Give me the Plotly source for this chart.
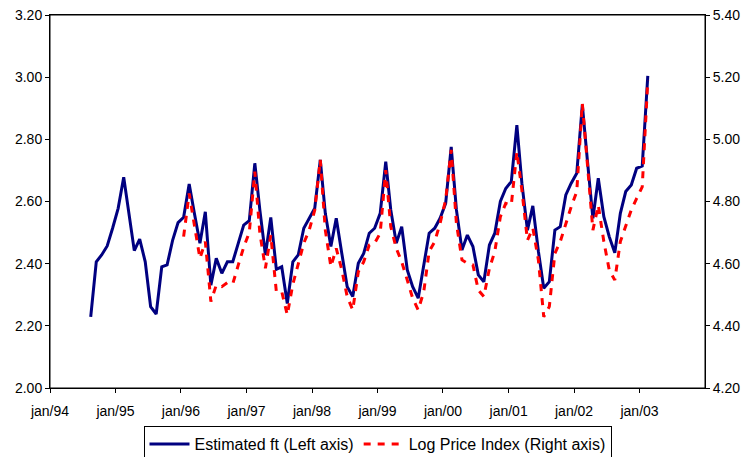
import pandas as pd
import plotly.graph_objects as go

# Estimated ft (left axis), monthly from Aug 1994 to Feb 2003
blue_start = "1994-08-01"
blue_values = [
    2.229, 2.406, 2.428, 2.457, 2.514,                      # Aug-Dec 94
    2.578, 2.678, 2.562, 2.442, 2.479, 2.406, 2.262, 2.238, 2.390, 2.396, 2.476, 2.532,  # 95
    2.549, 2.656, 2.562, 2.466, 2.567, 2.331, 2.417, 2.369, 2.406, 2.406, 2.466, 2.524,  # 96
    2.538, 2.723, 2.573, 2.428, 2.549, 2.382, 2.390, 2.272, 2.406, 2.428, 2.514, 2.546,  # 97
    2.578, 2.734, 2.562, 2.455, 2.546, 2.433, 2.326, 2.294, 2.401, 2.433, 2.498, 2.514,  # 98
    2.562, 2.728, 2.573, 2.466, 2.519, 2.380, 2.326, 2.289, 2.390, 2.498, 2.514, 2.546,  # 99
    2.594, 2.776, 2.573, 2.444, 2.492, 2.455, 2.364, 2.342, 2.460, 2.498, 2.600, 2.642,  # 00
    2.664, 2.846, 2.659, 2.508, 2.586, 2.440, 2.321, 2.342, 2.508, 2.519, 2.621, 2.659,  # 01
    2.691, 2.911, 2.734, 2.546, 2.675, 2.551, 2.487, 2.435, 2.562, 2.632, 2.653, 2.707,  # 02
    2.714, 3.004,                                            # Jan-Feb 03
]

# Log Price Index (right axis), monthly from Jan 1996 to Feb 2003
red_start = "1996-01-01"
red_values = [
    4.687, 4.826, 4.724, 4.617, 4.671, 4.478, 4.531, 4.526, 4.539, 4.535, 4.596, 4.653,  # 96
    4.700, 4.896, 4.699, 4.585, 4.692, 4.510, 4.510, 4.435, 4.534, 4.599, 4.666, 4.708,  # 97
    4.772, 4.934, 4.708, 4.590, 4.649, 4.580, 4.494, 4.451, 4.574, 4.606, 4.660, 4.666,  # 98
    4.698, 4.901, 4.719, 4.649, 4.606, 4.547, 4.489, 4.451, 4.510, 4.639, 4.671, 4.730,  # 99
    4.805, 4.966, 4.730, 4.612, 4.601, 4.596, 4.515, 4.494, 4.585, 4.639, 4.751, 4.794,  # 00
    4.789, 4.960, 4.837, 4.675, 4.715, 4.612, 4.429, 4.462, 4.633, 4.671, 4.730, 4.783,  # 01
    4.832, 5.115, 4.923, 4.708, 4.788, 4.671, 4.580, 4.547, 4.671, 4.720, 4.773, 4.810,  # 02
    4.847, 5.190,                                                                          # 03
]

tick_years = list(range(1994, 2004))
tick_labels = ["jan/%02d" % (y % 100) for y in tick_years]
tick_dates = ["%d-01-01" % y for y in tick_years]
left_ticks = [2.0, 2.2, 2.4, 2.6, 2.8, 3.0, 3.2]
right_ticks = [4.2, 4.4, 4.6, 4.8, 5.0, 5.2, 5.4]

mid = pd.Timedelta(days=15)
blue_x = pd.date_range(blue_start, periods=len(blue_values), freq="MS") + mid
red_x = pd.date_range(red_start, periods=len(red_values), freq="MS") + mid

FONT = "Liberation Sans, Arial, sans-serif"

fig = go.Figure()
fig.add_trace(go.Scatter(
    x=blue_x, y=blue_values, mode="lines", name="Estimated ft (Left axis)",
    line=dict(color="#000080", width=3), yaxis="y",
))
fig.add_trace(go.Scatter(
    x=red_x, y=red_values, mode="lines", name="Log Price Index (Right axis)",
    line=dict(color="#FF0000", width=3, dash="7px,7px"), yaxis="y2",
))

xr = ["1994-01-01", "2004-01-01"]
common_tick = dict(tickcolor="black", ticklen=4, tickwidth=1)

# the page body has an 8px margin, so the figure is sized/offset to compensate
W, H = 741, 449
fig.update_layout(
    width=W, height=H,
    margin=dict(l=42, r=44, t=7, b=69, autoexpand=False),
    paper_bgcolor="white", plot_bgcolor="white",
    font=dict(family=FONT, size=14, color="black"),
    showlegend=True,
    legend=dict(
        orientation="h", x=0.5, xanchor="center",
        yref="container", y=1 - 418 / H, yanchor="top",
        bordercolor="black", borderwidth=1, font=dict(size=16, family=FONT),
        bgcolor="white", itemwidth=40, tracegroupgap=0,
    ),
    shapes=[dict(
        type="rect", xref="paper", yref="paper", x0=0, x1=1, y0=0, y1=1,
        line=dict(color="black", width=1), fillcolor="rgba(0,0,0,0)", layer="above",
    )],
    xaxis=dict(
        type="date", range=xr, tickvals=tick_dates, ticktext=tick_labels,
        ticks="outside", showgrid=False, zeroline=False, automargin=False,
        showline=True, linecolor="black", linewidth=1, mirror=True,
        ticklabelstandoff=6, **common_tick,
    ),
    xaxis3=dict(
        type="date", range=xr, tickvals=tick_dates, overlaying="x", anchor="y",
        ticks="inside", showticklabels=False, showgrid=False, zeroline=False,
        showline=False, automargin=False, **common_tick,
    ),
    yaxis=dict(
        range=[2.0, 3.2], tickvals=left_ticks, tickformat=".2f",
        ticklabeloverflow="allow",
        ticks="outside", showgrid=False, zeroline=False, automargin=False,
        showline=True, linecolor="black", linewidth=1, **common_tick,
    ),
    yaxis3=dict(
        range=[2.0, 3.2], tickvals=left_ticks, overlaying="y", anchor="x",
        side="left", ticks="inside", showticklabels=False, showgrid=False,
        zeroline=False, showline=False, automargin=False, **common_tick,
    ),
    yaxis2=dict(
        range=[4.2, 5.4], tickvals=right_ticks, tickformat=".2f",
        ticklabeloverflow="allow",
        overlaying="y", side="right", anchor="x", automargin=False,
        ticks="outside", showgrid=False, zeroline=False,
        showline=True, linecolor="black", linewidth=1, **common_tick,
    ),
    yaxis4=dict(
        range=[4.2, 5.4], tickvals=right_ticks, overlaying="y", side="right",
        anchor="x", ticks="inside", showticklabels=False, showgrid=False,
        zeroline=False, showline=False, automargin=False, **common_tick,
    ),
)

fig.write_html("out.html")
